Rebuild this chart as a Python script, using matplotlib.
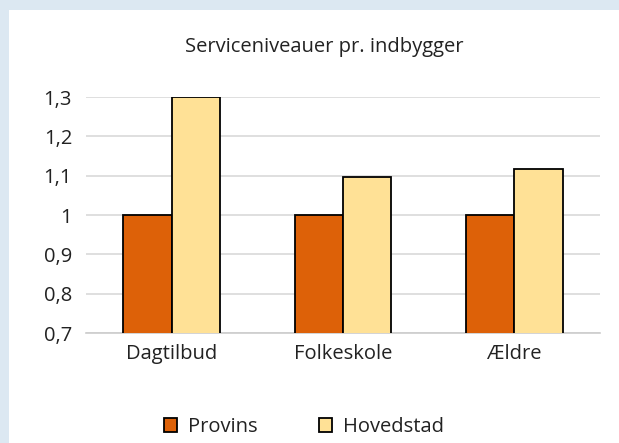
import numpy as np
import matplotlib
matplotlib.use("Agg")
import matplotlib.pyplot as plt
from matplotlib.patches import Rectangle

categories = ["Dagtilbud", "Folkeskole", "Ældre"]
provins = [1.0, 1.0, 1.0]
hovedstad = [1.30, 1.097, 1.117]
yticks = [0.7, 0.8, 0.9, 1.0, 1.1, 1.2, 1.3]
ytick_labels = ["0,7", "0,8", "0,9", "1", "1,1", "1,2", "1,3"]

plt.rcParams['font.family'] = ['Open Sans', 'DejaVu Sans']
fs = 14.5

fig = plt.figure(figsize=(6.19, 4.43), dpi=100)
fig.patch.set_facecolor("#dce8f2")
# white panel inside the blue frame
fig.add_artist(Rectangle((9 / 619, 0), 1, 1 - 10 / 443, transform=fig.transFigure,
                         facecolor="white", edgecolor="none", zorder=0))

ax = fig.add_axes([86 / 619, 1 - 333 / 443, (600 - 86) / 619, (333 - 97) / 443])
ax.set_facecolor("none")

x = np.arange(len(categories))
w = 0.283
ax.bar(x - w / 2, provins, w, color="#dd6108", edgecolor="black",
       linewidth=1.3, label="Provins", zorder=3)
ax.bar(x + w / 2, hovedstad, w, color="#ffe196", edgecolor="black",
       linewidth=1.3, label="Hovedstad", zorder=3)

ax.set_ylim(0.7, 1.3)
ax.set_xlim(-0.5, 2.5)
ax.set_yticks(yticks)
ax.set_yticklabels(ytick_labels)
ax.set_xticks(x)
ax.set_xticklabels(categories)
ax.tick_params(axis="both", length=0, labelsize=fs, colors="#222222")
ax.tick_params(axis="y", pad=10)
ax.tick_params(axis="x", pad=8)
ax.yaxis.grid(True, color="#d9d9d9", linewidth=1.2, zorder=0)
for s in ["top", "right", "left"]:
    ax.spines[s].set_visible(False)
ax.spines["bottom"].set_color("#cccccc")
ax.spines["bottom"].set_linewidth(1.2)

fig.text(324 / 619, 1 - 47 / 443, "Serviceniveauer pr. indbygger",
         ha="center", va="center", fontsize=fs, color="#222222")

leg = fig.legend(loc="center", bbox_to_anchor=(304 / 619, 1 - 427 / 443), ncol=2,
                 frameon=False, fontsize=fs, handlelength=0.67, handleheight=0.67,
                 columnspacing=3.0, handletextpad=0.55)
for t in leg.get_texts():
    t.set_color("#222222")

fig.savefig("out.png", dpi=100, facecolor=fig.get_facecolor())
